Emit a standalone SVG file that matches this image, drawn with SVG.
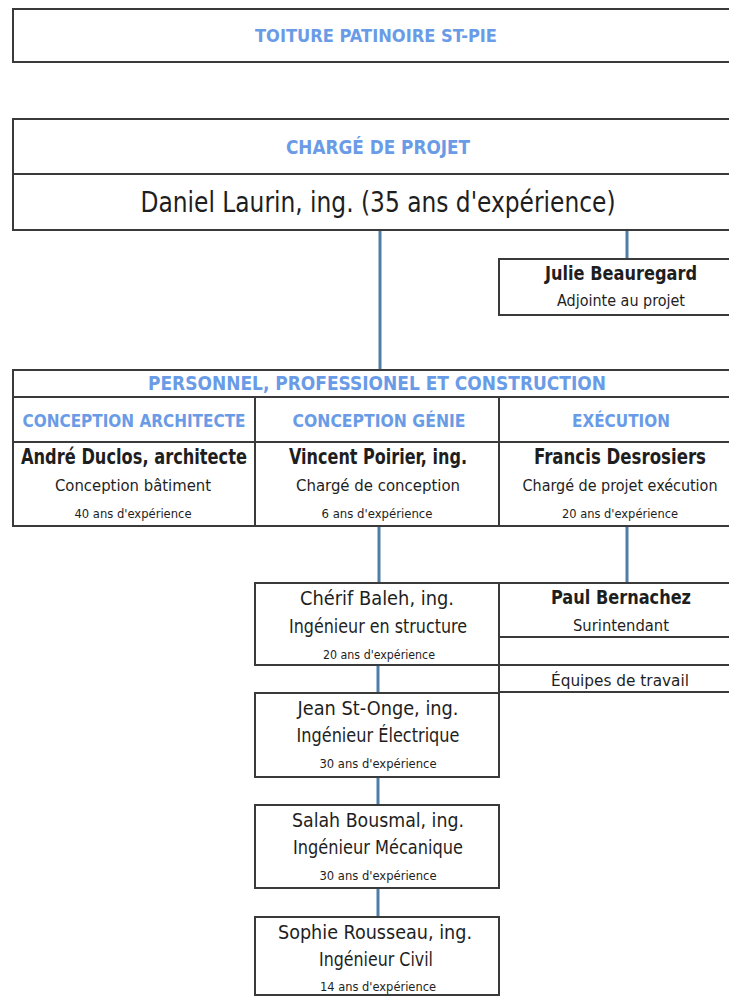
<svg xmlns="http://www.w3.org/2000/svg" width="729" height="996" viewBox="0 0 729 996">
<style>
.box{fill:#ffffff;stroke:#3a3a3a;stroke-width:2}
.ln{stroke:#3a3a3a;stroke-width:2;fill:none}
.con{stroke:#4f7ea8;stroke-width:3;fill:none}
text{font-family:"Liberation Sans Narrow","DejaVu Sans Condensed","Liberation Sans",sans-serif;text-anchor:middle;fill:#1e1e1e}
.hd{fill:#6a9be6;font-weight:bold}
.b{font-weight:bold}
</style>
<rect width="729" height="996" fill="#ffffff"/>
<g id="connectors">
<line class="con" x1="380" y1="230" x2="380" y2="370"/>
<line class="con" x1="627" y1="230" x2="627" y2="259"/>
<line class="con" x1="379" y1="526" x2="379" y2="583"/>
<line class="con" x1="627" y1="526" x2="627" y2="583"/>
<line class="con" x1="627" y1="637" x2="627" y2="665"/>
<line class="con" x1="378" y1="665" x2="378" y2="693"/>
<line class="con" x1="378" y1="777" x2="378" y2="805"/>
<line class="con" x1="378" y1="888" x2="378" y2="917"/>
</g>
<g id="titre">
<rect class="box" x="13" y="9" width="730" height="53"/>
<text class="hd" x="376" y="42" font-size="18" textLength="242" lengthAdjust="spacingAndGlyphs">TOITURE PATINOIRE ST-PIE</text>
</g>
<g id="charge-projet">
<rect class="box" x="13" y="119" width="730" height="111"/>
<line class="ln" x1="13" y1="174" x2="729" y2="174"/>
<text class="hd" x="378" y="154" font-size="19" textLength="184" lengthAdjust="spacingAndGlyphs">CHARGÉ DE PROJET</text>
<text x="378" y="212" font-size="28" textLength="475" lengthAdjust="spacingAndGlyphs">Daniel Laurin, ing. (35 ans d'expérience)</text>
</g>
<g id="julie">
<rect class="box" x="499" y="259" width="244" height="56"/>
<text class="b" x="621" y="280" font-size="20" textLength="152" lengthAdjust="spacingAndGlyphs">Julie Beauregard</text>
<text x="621" y="306" font-size="16" textLength="128" lengthAdjust="spacingAndGlyphs">Adjointe au projet</text>
</g>
<g id="personnel">
<rect class="box" x="13" y="370" width="730" height="156"/>
<line class="ln" x1="13" y1="397" x2="729" y2="397"/>
<line class="ln" x1="13" y1="442" x2="729" y2="442"/>
<line class="ln" x1="255" y1="397" x2="255" y2="526"/>
<line class="ln" x1="499" y1="397" x2="499" y2="526"/>
<text class="hd" x="377" y="390" font-size="19" textLength="458" lengthAdjust="spacingAndGlyphs">PERSONNEL, PROFESSIONEL ET CONSTRUCTION</text>
</g>
<g id="architecte">
<text class="hd" x="134" y="427" font-size="18" textLength="223" lengthAdjust="spacingAndGlyphs">CONCEPTION ARCHITECTE</text>
<text class="b" x="134" y="464" font-size="21" textLength="226" lengthAdjust="spacingAndGlyphs">André Duclos, architecte</text>
<text x="133" y="491" font-size="16" textLength="156" lengthAdjust="spacingAndGlyphs">Conception bâtiment</text>
<text x="133" y="518" font-size="12" textLength="117" lengthAdjust="spacingAndGlyphs">40 ans d'expérience</text>
</g>
<g id="genie">
<text class="hd" x="379" y="427" font-size="18" textLength="173" lengthAdjust="spacingAndGlyphs">CONCEPTION GÉNIE</text>
<text class="b" x="378" y="464" font-size="21" textLength="178" lengthAdjust="spacingAndGlyphs">Vincent Poirier, ing.</text>
<text x="378" y="491" font-size="16" textLength="164" lengthAdjust="spacingAndGlyphs">Chargé de conception</text>
<text x="377" y="518" font-size="12" textLength="111" lengthAdjust="spacingAndGlyphs">6 ans d'expérience</text>
</g>
<g id="execution">
<text class="hd" x="621" y="427" font-size="18" textLength="98" lengthAdjust="spacingAndGlyphs">EXÉCUTION</text>
<text class="b" x="620" y="464" font-size="21" textLength="172" lengthAdjust="spacingAndGlyphs">Francis Desrosiers</text>
<text x="620" y="491" font-size="16" textLength="195" lengthAdjust="spacingAndGlyphs">Chargé de projet exécution</text>
<text x="620" y="518" font-size="12" textLength="116" lengthAdjust="spacingAndGlyphs">20 ans d'expérience</text>
</g>
<g id="cherif">
<rect class="box" x="255" y="583" width="244" height="82"/>
<text x="377" y="605" font-size="20" textLength="154" lengthAdjust="spacingAndGlyphs">Chérif Baleh, ing.</text>
<text x="378" y="633" font-size="19" textLength="178" lengthAdjust="spacingAndGlyphs">Ingénieur en structure</text>
<text x="379" y="659" font-size="12" textLength="112" lengthAdjust="spacingAndGlyphs">20 ans d'expérience</text>
</g>
<g id="paul">
<rect class="box" x="499" y="583" width="244" height="82"/>
<line class="ln" x1="499" y1="637" x2="729" y2="637"/>
<text class="b" x="621" y="604" font-size="19" textLength="140" lengthAdjust="spacingAndGlyphs">Paul Bernachez</text>
<text x="621" y="631" font-size="16" textLength="96" lengthAdjust="spacingAndGlyphs">Surintendant</text>
</g>
<g id="equipes">
<rect class="box" x="499" y="665" width="244" height="27"/>
<text x="620" y="686" font-size="16" textLength="138" lengthAdjust="spacingAndGlyphs">Équipes de travail</text>
</g>
<g id="jean">
<rect class="box" x="255" y="693" width="244" height="84"/>
<text x="378" y="715" font-size="20" textLength="161" lengthAdjust="spacingAndGlyphs">Jean St-Onge, ing.</text>
<text x="378" y="742" font-size="19" textLength="163" lengthAdjust="spacingAndGlyphs">Ingénieur Électrique</text>
<text x="378" y="768" font-size="12" textLength="117" lengthAdjust="spacingAndGlyphs">30 ans d'expérience</text>
</g>
<g id="salah">
<rect class="box" x="255" y="805" width="244" height="83"/>
<text x="378" y="827" font-size="20" textLength="172" lengthAdjust="spacingAndGlyphs">Salah Bousmal, ing.</text>
<text x="378" y="854" font-size="19" textLength="170" lengthAdjust="spacingAndGlyphs">Ingénieur Mécanique</text>
<text x="378" y="880" font-size="12" textLength="117" lengthAdjust="spacingAndGlyphs">30 ans d'expérience</text>
</g>
<g id="sophie">
<rect class="box" x="255" y="917" width="244" height="78"/>
<text x="375" y="939" font-size="20" textLength="194" lengthAdjust="spacingAndGlyphs">Sophie Rousseau, ing.</text>
<text x="376" y="966" font-size="19" textLength="114" lengthAdjust="spacingAndGlyphs">Ingénieur Civil</text>
<text x="378" y="991" font-size="12" textLength="116" lengthAdjust="spacingAndGlyphs">14 ans d'expérience</text>
</g>
</svg>
